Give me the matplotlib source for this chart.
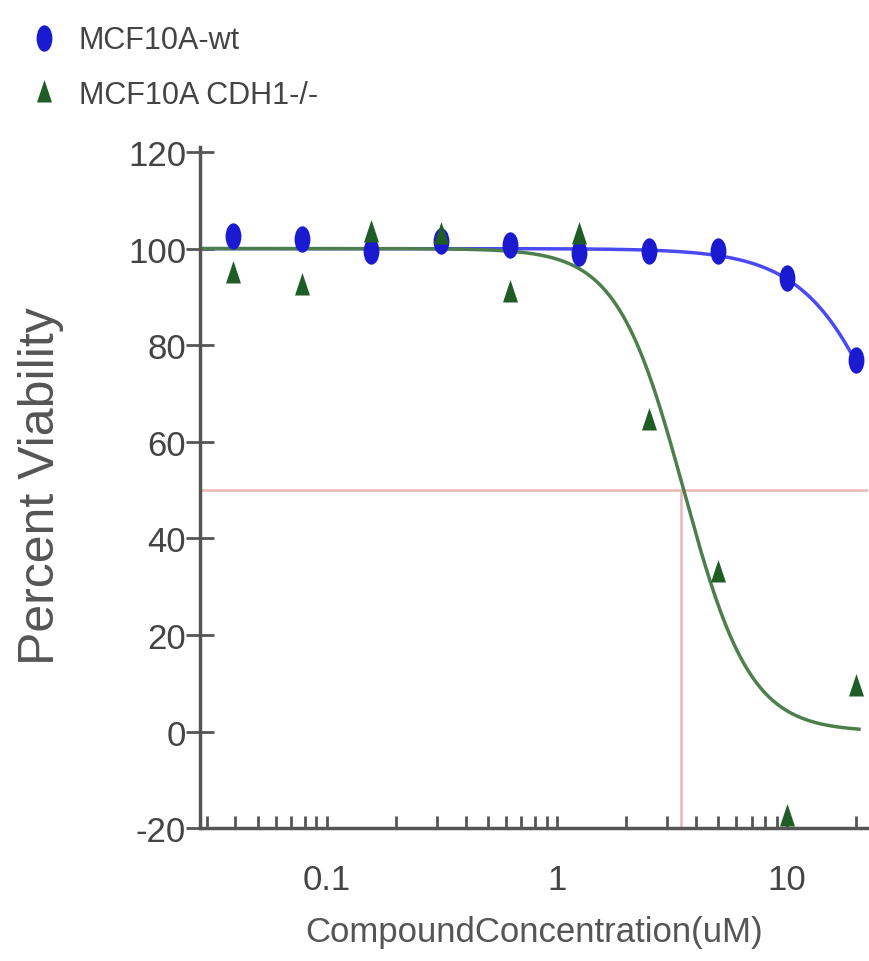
import numpy as np
import matplotlib
matplotlib.use("Agg")
import matplotlib.pyplot as plt
from matplotlib.path import Path

# ---- data ----
conc = [0.039, 0.078, 0.156, 0.3125, 0.625, 1.25, 2.5, 5, 10, 20]
wt_values = [102.7, 102.0, 99.5, 101.5, 100.8, 99.0, 99.6, 99.6, 94.0, 77.0]
cdh1_values = [95.0, 92.4, 103.5, 103.0, 91.0, 103.0, 64.5, 33.0, -17.5, 9.5]
series_names = ["MCF10A-wt", "MCF10A CDH1-/-"]
# fitted 4-parameter logistic curves: top, bottom, IC50, hill slope
wt_fit = [100.0, 0.0, 34.0, 2.2]
cdh1_fit = [100.0, 0.0, 3.55, 3.0]
ic50_line = 3.45
half_line = 50
yticks = [-20, 0, 20, 40, 60, 80, 100, 120]
xticks = [0.1, 1, 10]
xticklabels = ["0.1", "1", "10"]

plt.rcParams["font.family"] = ["Liberation Sans", "DejaVu Sans"]

fig = plt.figure(figsize=(8.7, 9.62), dpi=100)
ax = fig.add_axes([0.23, 0.138, 0.768, 0.713])

def hill(x, p):
    top, bottom, ic50, h = p
    return bottom + (top - bottom) / (1 + (x / ic50) ** h)

xs = np.logspace(np.log10(0.0281), np.log10(20.5), 400)

# reference lines
ref_col = "#eab8b8"
ax.axhline(half_line, color=ref_col, lw=1.8, zorder=1)
ax.plot([ic50_line, ic50_line], [-20, half_line], color=ref_col, lw=1.8, zorder=1)

# curves
ax.plot(xs, hill(xs, wt_fit), color="#4a4af5", lw=2.5, zorder=2)
ax.plot(xs, hill(xs, cdh1_fit), color="#4c7f4c", lw=2.5, zorder=2)

ell = Path.unit_circle()
ell = Path(ell.vertices * np.array([0.6, 1.0]), ell.codes)
tri = Path([(0, 1), (-0.6, -0.8), (0.6, -0.8), (0, 1)],
           [Path.MOVETO, Path.LINETO, Path.LINETO, Path.CLOSEPOLY])

l1, = ax.plot(conc, wt_values, linestyle="none", marker=ell, markersize=19,
              color="#1a1ad0", markeredgewidth=0, zorder=3, clip_on=False)
l2, = ax.plot(conc, cdh1_values, linestyle="none", marker=tri, markersize=18,
              color="#1f5c26", markeredgewidth=0, zorder=4, clip_on=False)

ax.set_xscale("log")
ax.set_xlim(0.0281, 22.5)
ax.set_ylim(-20, 122)
ax.set_yticks(yticks)
ax.set_yticklabels([str(v) for v in yticks])
ax.set_xticks(xticks)
ax.set_xticklabels(xticklabels)
ax.xaxis.set_minor_locator(matplotlib.ticker.LogLocator(base=10, subs=np.arange(2, 10)))
ax.xaxis.set_minor_formatter(matplotlib.ticker.NullFormatter())

for s in ["top", "right"]:
    ax.spines[s].set_visible(False)
for s in ["left", "bottom"]:
    ax.spines[s].set_color("#555555")
    ax.spines[s].set_linewidth(2.5)
ax.spines["left"].set_bounds(-20, 121)

tc = "#444444"
ax.tick_params(axis="y", direction="inout", length=20, width=2, color="#555555",
               labelsize=25, labelcolor=tc, pad=0)
ax.tick_params(axis="x", which="both", direction="in", length=9, width=2, color="#555555",
               labelsize=25, labelcolor=tc, pad=25)

ax.set_ylabel("Percent Viability", fontsize=36, color="#555555", labelpad=46)
ax.set_xlabel("CompoundConcentration(uM)", fontsize=25, color="#555555", labelpad=14)

fig.legend([l1, l2], series_names, loc="upper left", bbox_to_anchor=(0.01, 0.995),
           frameon=False, fontsize=22, handlelength=0.9, handletextpad=0.7,
           labelspacing=0.8, borderaxespad=0.3, labelcolor=tc)

fig.savefig("out.png", dpi=100)
